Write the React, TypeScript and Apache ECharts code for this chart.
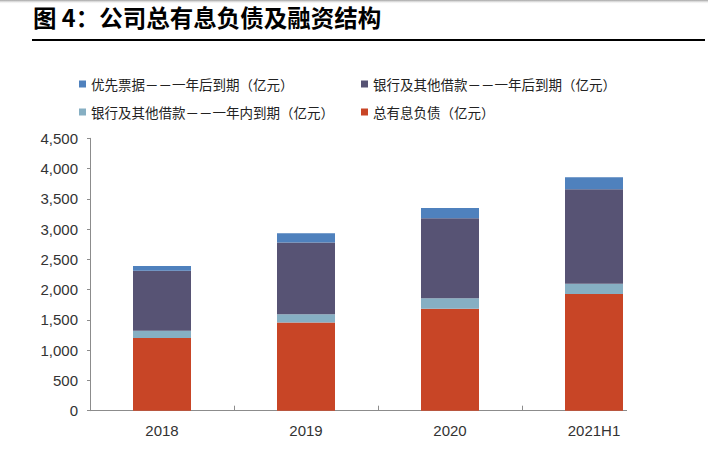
import React, { useEffect, useRef } from "react";
import * as echarts from "echarts";

const categories = ["2018", "2019", "2020", "2021H1"];
const totalDebt = [1200, 1455, 1685, 1928];
const bankWithinYear = [120, 139, 172, 170];
const bankAfterYear = [990, 1183, 1322, 1560];
const seniorNotes = [82, 155, 170, 198];

const seriesNames = [
  "优先票据－－一年后到期（亿元）",
  "银行及其他借款－－一年后到期（亿元）",
  "银行及其他借款－－一年内到期（亿元）",
  "总有息负债（亿元）",
];
const colors = ["#4F81BD", "#575374", "#86AFC3", "#C84526"];
const titleText = "图 4：公司总有息负债及融资结构";

export default function App() {
  const ref = useRef<HTMLDivElement>(null);
  useEffect(() => {
    if (!ref.current) return;
    const chart = echarts.init(ref.current, null, { renderer: "svg" });
    const cjk = "'Noto Sans CJK SC', sans-serif";
    const num = "'Liberation Sans', Arial, sans-serif";
    const legendText = { fontSize: 13.5, color: "#222", fontFamily: cjk, lineHeight: 14 };
    chart.setOption({
      animation: false,
      backgroundColor: "#ffffff",
      grid: { left: 90, right: 42, top: 138.3, bottom: 40.3, containLabel: false },
      legend: [
        {
          orient: "vertical",
          left: 79,
          top: 77,
          padding: 0,
          itemWidth: 7,
          itemHeight: 7,
          itemGap: 14,
          icon: "rect",
          selectedMode: false,
          textStyle: legendText,
          data: [seriesNames[0], seriesNames[2]],
        },
        {
          orient: "vertical",
          left: 361,
          top: 77,
          padding: 0,
          itemWidth: 7,
          itemHeight: 7,
          itemGap: 14,
          icon: "rect",
          selectedMode: false,
          textStyle: legendText,
          data: [seriesNames[1], seriesNames[3]],
        },
      ],
      xAxis: {
        type: "category",
        data: categories,
        axisLine: { show: true, lineStyle: { color: "#8c8c8c", width: 1 } },
        axisTick: { show: true, inside: true, length: 5, lineStyle: { color: "#8c8c8c" } },
        axisLabel: { margin: 12, fontSize: 15, color: "#333", fontFamily: num },
        splitLine: { show: false },
      },
      yAxis: {
        type: "value",
        min: 0,
        max: 4500,
        interval: 500,
        axisLine: { show: true, lineStyle: { color: "#8c8c8c", width: 1 } },
        axisTick: { show: true, inside: false, length: 3, lineStyle: { color: "#8c8c8c" } },
        axisLabel: {
          margin: 12,
          fontSize: 15,
          color: "#333",
          fontFamily: num,
          formatter: (v: number) => v.toLocaleString("en-US"),
        },
        splitLine: { show: false },
      },
      series: [
        { name: seriesNames[3], type: "bar", stack: "a", data: totalDebt, barWidth: 58, itemStyle: { color: colors[3] } },
        { name: seriesNames[2], type: "bar", stack: "a", data: bankWithinYear, barWidth: 58, itemStyle: { color: colors[2] } },
        { name: seriesNames[1], type: "bar", stack: "a", data: bankAfterYear, barWidth: 58, itemStyle: { color: colors[1] } },
        { name: seriesNames[0], type: "bar", stack: "a", data: seniorNotes, barWidth: 58, itemStyle: { color: colors[0] } },
      ],
      graphic: [
        {
          type: "rect",
          left: 0,
          top: 0,
          shape: { width: 708, height: 4 },
          style: {
            fill: new echarts.graphic.LinearGradient(0, 0, 0, 1, [
              { offset: 0, color: "rgba(150,150,150,0.9)" },
              { offset: 1, color: "rgba(255,255,255,0)" },
            ]),
          },
          silent: true,
        },
        {
          type: "text",
          left: 33,
          top: 5,
          style: {
            text: titleText,
            fontSize: 23.5,
            fontWeight: "bold",
            fontFamily: cjk,
            fill: "#000",
          },
        },
        {
          type: "line",
          shape: { x1: 32, y1: 40, x2: 705, y2: 40 },
          style: { stroke: "#000", lineWidth: 2.2 },
        },
        {
          type: "rect",
          z: 100,
          shape: { x: 627, y: 402, width: 60, height: 12 },
          style: { fill: "#ffffff" },
          silent: true,
        },
      ],
    });
    return () => chart.dispose();
  }, []);
  return (
    <div
      ref={ref}
      style={{ position: "absolute", left: 0, top: 0, width: 708, height: 451, background: "#fff" }}
    />
  );
}
